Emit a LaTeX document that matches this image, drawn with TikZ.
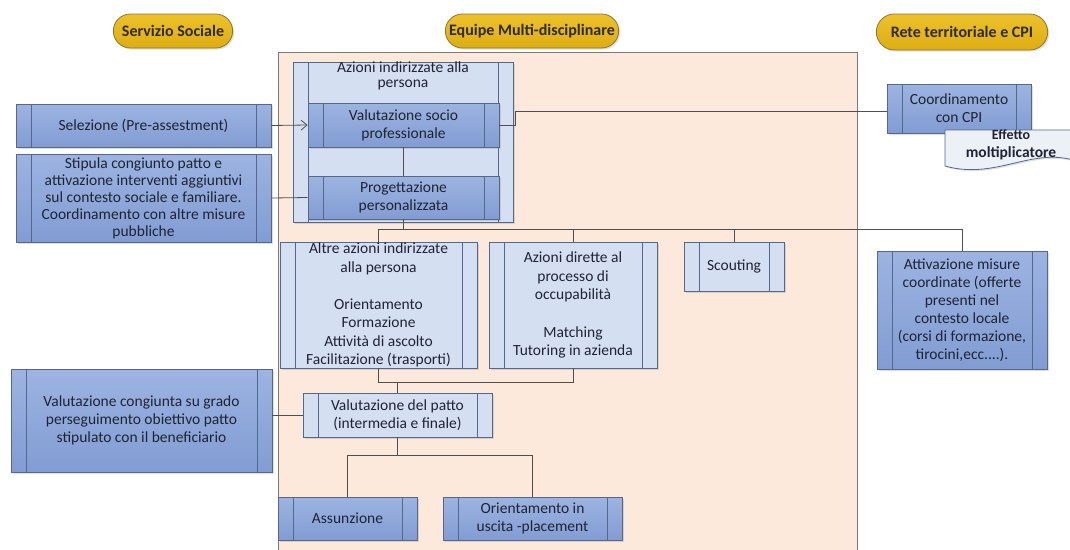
\documentclass[tikz,border=0pt]{standalone}
\usepackage{fontspec}
\setmainfont{Carlito}
\usetikzlibrary{arrows.meta,positioning,shapes.misc,shadows}

\definecolor{panelfill}{HTML}{FDE9DC}
\definecolor{panelline}{HTML}{7A7A7A}
\definecolor{darktop}{HTML}{9DB4E1}
\definecolor{darkbot}{HTML}{829CD3}
\definecolor{lightfill}{HTML}{D5DFF2}
\definecolor{boxline}{HTML}{56678C}
\definecolor{boxtext}{HTML}{1E2433}
\definecolor{pilltop}{HTML}{EDC12A}
\definecolor{pillbot}{HTML}{DDAE12}
\definecolor{pillline}{HTML}{8A7638}
\definecolor{pilltext}{HTML}{2E2A1E}
\definecolor{docfill}{HTML}{ECF0F7}
\definecolor{linkcol}{HTML}{4F4F4F}

\begin{document}
\begin{tikzpicture}[
    x=1pt, y=-1pt,
    font=\fontsize{15.5}{18}\selectfont,
    strips/.style={path picture={
        \draw[#1] ([xshift=15pt]path picture bounding box.north west) -- ([xshift=15pt]path picture bounding box.south west);
        \draw[#1] ([xshift=-15pt]path picture bounding box.north east) -- ([xshift=-15pt]path picture bounding box.south east);}},
    box/.style={draw=boxline, line width=0.8pt, align=center, inner sep=0pt, text=boxtext,
        drop shadow={shadow xshift=1.5pt, shadow yshift=-1.5pt, opacity=0.25}},
    darkbox/.style={box, top color=darktop, bottom color=darkbot, strips=boxline},
    lightbox/.style={box, fill=lightfill, strips=boxline},
    pill/.style={rounded rectangle, draw=pillline, line width=0.8pt, top color=pilltop, bottom color=pillbot,
        text=pilltext, font=\fontsize{16}{18}\selectfont\bfseries,
        drop shadow={shadow xshift=1.5pt, shadow yshift=-1.5pt, opacity=0.25}},
    link/.style={draw=linkcol, line width=0.8pt},
    arrow/.style={link, -{Straight Barb[length=6pt, width=10pt]}}
]
\useasboundingbox (0,0) rectangle (1070,549);

% Background panel of the equipe
\filldraw[fill=panelfill, draw=panelline, line width=0.8pt] (278,52) rectangle (857,565);

% Column headers
\node[pill, minimum width=126pt, minimum height=34pt] (servizio) at (173,31) {Servizio Sociale};
\node[pill, minimum width=180pt, minimum height=34pt] (equipe) at (532,31) {Equipe Multi-disciplinare};
\node[pill, minimum width=178pt, minimum height=36pt] (rete) at (962,32) {Rete territoriale e CPI};

% Group box
\node[lightbox, minimum width=220pt, minimum height=160pt] (azioni) at (403,142) {};
\node[align=center, text=boxtext, font=\fontsize{15.5}{14.5}\selectfont] (azionititle) at (403,76) {Azioni indirizzate alla\\persona};

% Boxes
\node[darkbox, minimum width=191pt, minimum height=44pt] (valsoc) at (403.5,125) {Valutazione socio\\professionale};
\node[darkbox, minimum width=191pt, minimum height=43pt] (prog) at (403.5,197.5) {Progettazione\\personalizzata};
\node[darkbox, minimum width=255pt, minimum height=43pt] (sel) at (143.5,125.5) {Selezione (Pre-assestment)};
\node[darkbox, minimum width=255pt, minimum height=88pt, font=\fontsize{15.5}{17}\selectfont] (stip) at (143.5,198)
    {Stipula congiunto patto e\\attivazione interventi aggiuntivi\\sul contesto sociale e familiare.\\Coordinamento con altre misure\\pubbliche};
\node[darkbox, minimum width=144pt, minimum height=49pt] (coord) at (959,108.5) {Coordinamento\\con CPI};

\node[lightbox, minimum width=197pt, minimum height=126pt, font=\fontsize{15.5}{18.5}\selectfont] (altre) at (378.5,305)
    {Altre azioni indirizzate\\alla persona\\[18.5pt]Orientamento\\Formazione\\Attività di ascolto\\Facilitazione (trasporti)};
\node[lightbox, minimum width=168pt, minimum height=126pt, font=\fontsize{15.5}{18.7}\selectfont] (dirette) at (573,305)
    {Azioni dirette al\\processo di\\occupabilità\\[18.7pt]Matching\\Tutoring in azienda};
\node[lightbox, minimum width=100pt, minimum height=49pt] (scout) at (734,266.5) {Scouting};
\node[darkbox, minimum width=170pt, minimum height=118pt] (attiv) at (962,310)
    {Attivazione misure\\coordinate (offerte\\presenti nel\\contesto locale\\(corsi di formazione,\\tirocini,ecc....).};

\node[darkbox, minimum width=261pt, minimum height=103pt] (cong) at (141.5,420.5)
    {Valutazione congiunta su grado\\perseguimento obiettivo patto\\stipulato con il beneficiario};
\node[lightbox, minimum width=189pt, minimum height=44pt] (patto) at (397.5,415) {Valutazione del patto\\(intermedia e finale)};
\node[darkbox, minimum width=139pt, minimum height=43pt] (assun) at (347.5,518.5) {Assunzione};
\node[darkbox, minimum width=179pt, minimum height=43pt] (orient) at (532.5,518.5) {Orientamento in\\uscita -placement};

% Multiplier note
\filldraw[fill=docfill, draw=boxline, line width=0.8pt, drop shadow={shadow xshift=1.5pt, shadow yshift=-1.5pt, opacity=0.25}]
    (945,130) -- (1073,130) -- (1073,160) .. controls (1030,148) and (995,180) .. (945,166) -- cycle;
\node[align=center, text=boxtext, font=\fontsize{15.5}{18}\selectfont\bfseries] (effetto) at (1011,145)
    {{\fontsize{14}{15}\selectfont Effetto}\\moltiplicatore};

% Connectors
\coordinate (bus) at (0,229);
\coordinate (join) at (0,382);
\coordinate (split) at (0,455);

\draw[arrow] (sel.east) -- (valsoc.west);
\draw[link] (stip.east) -- (prog.west);
\draw[link] (valsoc.south) -- (prog.north);
\draw[link] (valsoc.east) -- ++(16,0) |- ([yshift=-2.5pt]coord.west);

\draw[link] (altre.north) |- (bus -| attiv.north) -- (attiv.north);
\draw[link] (prog.south) -- (prog.south |- bus);
\draw[link] (dirette.north) -- (dirette.north |- bus);
\draw[link] (scout.north) -- (scout.north |- bus);

\draw[link] (altre.south) |- (join -| dirette.south) -- (dirette.south);
\draw[link] (patto.north) -- (patto.north |- join);
\draw[link] (cong.east |- patto.west) -- (patto.west);

\draw[link] (assun.north) |- (split -| orient.north) -- (orient.north);
\draw[link] (patto.south) -- (patto.south |- split);

\end{tikzpicture}
\end{document}
